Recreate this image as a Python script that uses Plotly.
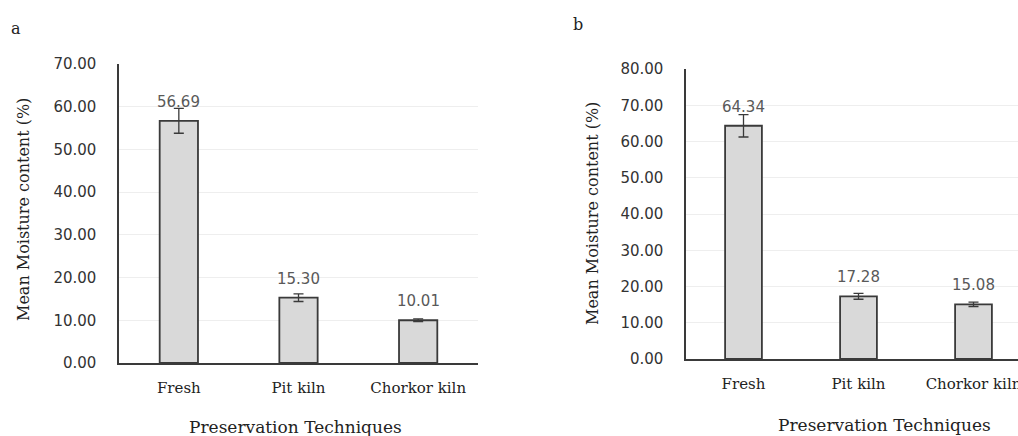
import plotly.graph_objects as go

categories = ["Fresh", "Pit kiln", "Chorkor kiln"]
values_a = [56.69, 15.30, 10.01]
errors_a = [2.9, 0.9, 0.3]
values_b = [64.34, 17.28, 15.08]
errors_b = [3.1, 0.8, 0.6]
ticks_a = [0, 10, 20, 30, 40, 50, 60, 70]
ticks_b = [0, 10, 20, 30, 40, 50, 60, 70, 80]

W, H = 1018, 436
BAR_FILL = "#d9d9d9"
DARK = "#3a3a3a"
SERIF = "DejaVu Serif"
SANS = "DejaVu Sans"

fig = go.Figure()

for vals, errs, xa, ya in [(values_a, errors_a, "x", "y"), (values_b, errors_b, "x2", "y2")]:
    fig.add_trace(go.Bar(
        x=categories, y=vals, width=0.32,
        marker=dict(color=BAR_FILL, line=dict(color=DARK, width=1.8)),
        error_y=dict(type="data", array=errs, visible=True, color=DARK, thickness=1.3, width=5),
        xaxis=xa, yaxis=ya, showlegend=False, hoverinfo="skip",
    ))
    for c, v in zip(categories, vals):
        fig.add_annotation(x=c, y=v, xref=xa, yref=ya, text=f"{v:.2f}", showarrow=False,
                           yshift=19, yanchor="middle",
                           font=dict(family=SANS, size=15, color="#595959"))

axis_common = dict(showline=True, linecolor=DARK, linewidth=1.6, zeroline=False, automargin=False)

fig.update_layout(
    template="none",
    width=W, height=H, margin=dict(l=0, r=0, t=0, b=0, pad=0),
    paper_bgcolor="white", plot_bgcolor="white",
    xaxis=dict(domain=[119 / W, 478 / W], type="category", range=[-0.5, 2.5],
               showgrid=False, ticks="", ticklabelstandoff=10,
               tickfont=dict(family=SERIF, size=15, color="#222222"), anchor="y", **axis_common),
    yaxis=dict(domain=[1 - 363 / H, 1 - 64 / H], range=[0, 70], tickvals=ticks_a,
               ticktext=[f"{t:.2f}" for t in ticks_a], showgrid=True, gridcolor="#eeeeee",
               ticks="", ticklabelstandoff=18,
               tickfont=dict(family=SANS, size=15, color="#333333"), anchor="x", **axis_common),
    xaxis2=dict(domain=[686 / W, 1.0], type="category", range=[-0.5, 2.387],
                showgrid=False, ticks="", ticklabelstandoff=10,
                tickfont=dict(family=SERIF, size=15, color="#222222"), anchor="y2", **axis_common),
    yaxis2=dict(domain=[1 - 359 / H, 1 - 69 / H], range=[0, 80], tickvals=ticks_b,
                ticktext=[f"{t:.2f}" for t in ticks_b], showgrid=True, gridcolor="#eeeeee",
                ticks="", ticklabelstandoff=18,
                tickfont=dict(family=SANS, size=15, color="#333333"), anchor="x2", **axis_common),
)

# axis titles and panel letters
def pann(x, y, text, size, angle=0):
    fig.add_annotation(x=x / W, y=1 - y / H, xref="paper", yref="paper", text=text,
                       showarrow=False, textangle=angle, xanchor="center", yanchor="middle",
                       font=dict(family=SERIF, size=size, color="#222222"))

pann(23, 210, "Mean Moisture content (%)", 16, -90)
pann(592, 214, "Mean Moisture content (%)", 16, -90)
pann(295, 427, "Preservation Techniques", 17)
pann(884, 425, "Preservation Techniques", 17)
pann(16, 28, "a", 16)
pann(578, 24, "b", 16)

fig.write_html("out.html", config={"displayModeBar": False, "staticPlot": True},
               post_script="document.body.style.margin='0';document.body.style.overflow='hidden';")
